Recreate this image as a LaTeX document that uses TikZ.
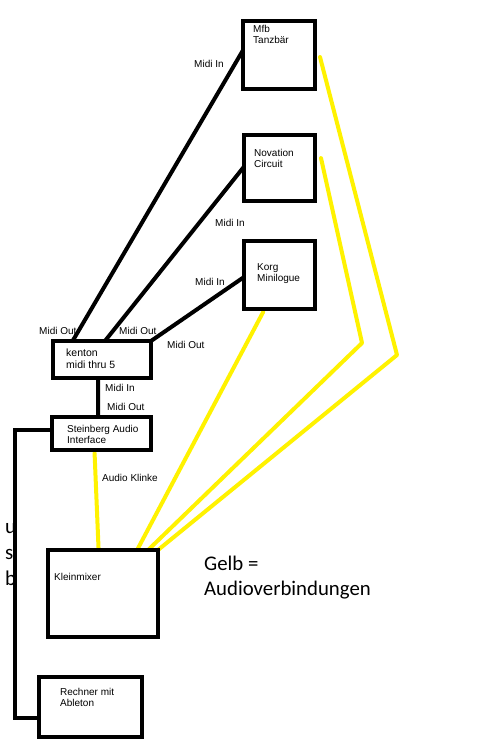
\documentclass[tikz,border=0pt]{standalone}
\usepackage{fontspec}
\setmainfont{Liberation Sans}
\newfontfamily\calib{Carlito}
\usetikzlibrary{calc,backgrounds}
\definecolor{paintyellow}{RGB}{255,242,0}
\tikzset{
  box/.style={draw=black, line width=4pt, inner sep=0pt, outer sep=0pt},
  boxtext/.style={font=\fontsize{10}{11.5}\selectfont, align=left, inner sep=0pt, anchor=north west},
  lbl/.style={font=\fontsize{10}{12}\selectfont, inner sep=0pt, anchor=west},
  bigtext/.style={font=\calib\fontsize{20.8}{25}\selectfont, align=left, inner sep=0pt, anchor=north west},
  midi/.style={draw=black, line width=4pt},
  usbline/.style={draw=black, line width=4pt, line join=miter},
  audio/.style={draw=paintyellow, line width=4pt, line cap=round, line join=round}
}
\begin{document}
\begin{tikzpicture}[x=1pt,y=-1pt]
\useasboundingbox (0,0) rectangle (500,751);
% boxes
\node[box, minimum width=72pt, minimum height=68pt] (mfb) at (279,55) {};
\node[box, minimum width=71pt, minimum height=66pt] (nov) at (279.5,168) {};
\node[box, minimum width=71pt, minimum height=68pt] (korg) at (279.5,275) {};
\node[box, minimum width=98pt, minimum height=37pt] (kenton) at (102,359.5) {};
\node[box, minimum width=99pt, minimum height=33pt] (stein) at (101.5,433.5) {};
\node[box, minimum width=110pt, minimum height=87pt] (mixer) at (103,593.5) {};
\node[box, minimum width=103pt, minimum height=60pt] (pc) at (90.5,707) {};
% box texts
\node[boxtext] (mfbt) at (253,25) {Mfb\\Tanzbär};
\node[boxtext] (novt) at (254,149) {Novation\\Circuit};
\node[boxtext] (korgt) at (257,263) {Korg\\Minilogue};
\node[boxtext, font=\fontsize{10.5}{12}\selectfont] (kentont) at (66,349) {kenton\\midi thru 5};
\node[boxtext] (steint) at (67,425) {Steinberg Audio\\Interface};
\node[boxtext] (mixert) at (54,573) {Kleinmixer};
\node[boxtext] (pct) at (60,688) {Rechner mit\\Ableton};
% connector labels
\node[lbl] (l1) at (194,64) {Midi In};
\node[lbl] (l2) at (215,223) {Midi In};
\node[lbl] (l3) at (195,282) {Midi In};
\node[lbl] (l4) at (39,331) {Midi Out};
\node[lbl] (l5) at (119,331) {Midi Out};
\node[lbl] (l6) at (167,345) {Midi Out};
\node[lbl] (l7) at (105,388) {Midi In};
\node[lbl] (l8) at (107,407) {Midi Out};
\node[lbl] (l9) at (102,478) {Audio Klinke};
% legend and usb
\node[bigtext] (legend) at (204,556) {Gelb =\\Audioverbindungen};
\node[bigtext, font=\calib\fontsize{21}{26}\selectfont] (usbt) at (5,523) {u\\s\\b};
% helper coordinates
\coordinate (bendA) at (362,343);
\coordinate (bendB) at (397,355);
\coordinate (usbx) at (15,600);
\coordinate (u1) at ($(stein.north west)!0.4!(stein.south west)$);
\coordinate (u2) at ($(pc.north west)!0.68!(pc.south west)$);
\begin{pgfonlayer}{background}
\fill[white] (0,0) rectangle (500,751);
% midi
\draw[midi] ($(kenton.north west)!0.2!(kenton.north east)$) -- ($(mfb.north west)!0.43!(mfb.south west)$);
\draw[midi] ($(kenton.north west)!0.53!(kenton.north east)$) -- ($(nov.north west)!0.48!(nov.south west)$);
\draw[midi] (kenton.north east) -- ($(korg.north west)!0.53!(korg.south west)$);
\draw[midi] ($(kenton.south west)!0.46!(kenton.south east)$) -- ($(stein.north west)!0.465!(stein.north east)$);
% usb
\draw[usbline] (u1) -- (u1 -| usbx) -- (u2 -| usbx) -- (u2);
% audio
\draw[audio] ($(stein.south west)!0.43!(stein.south east)+(0,3)$) -- ($(mixer.north west)!0.46!(mixer.north east)$);
\draw[audio] ($(korg.south west)!0.27!(korg.south east)+(0,3)$) -- ($(mixer.north west)!0.81!(mixer.north east)$);
\draw[audio] ($(nov.north east)!0.35!(nov.south east)+(6,0)$) -- (bendA) -- ($(mixer.north west)!0.91!(mixer.north east)$);
\draw[audio] ($(mfb.north east)!0.53!(mfb.south east)+(5,0)$) -- (bendB) -- (mixer.north east);
\end{pgfonlayer}
\end{tikzpicture}
\end{document}
